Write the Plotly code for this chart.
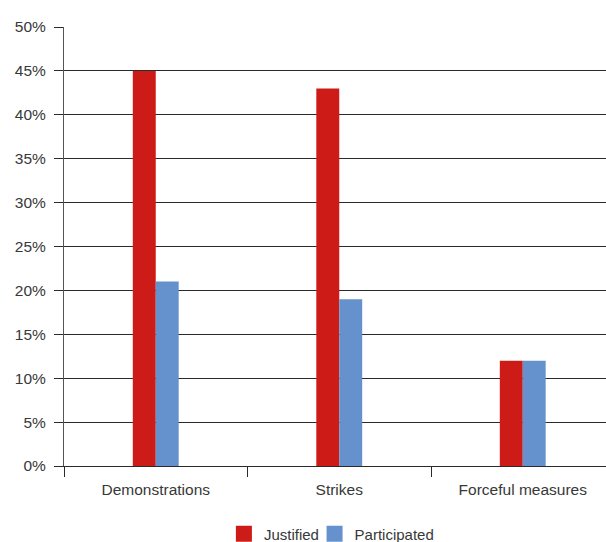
import plotly.graph_objects as go

categories = ["Demonstrations", "Strikes", "Forceful measures"]
justified = [45, 43, 12]
participated = [21, 19, 12]
y_ticks = [0, 5, 10, 15, 20, 25, 30, 35, 40, 45, 50]
y_tick_labels = [f"{v}%" for v in y_ticks]

RED = "#CD1C17"
BLUE = "#6592CD"
LINE = "#2a2a2a"
TEXT = "#383838"
FONT = "Liberation Sans"
FS = 15.5

fig = go.Figure()
fig.add_trace(go.Bar(name="Justified", x=categories, y=justified, showlegend=False,
                     marker=dict(color=RED, line=dict(width=0))))
fig.add_trace(go.Bar(name="Participated", x=categories, y=participated, showlegend=False,
                     marker=dict(color=BLUE, line=dict(width=0))))

# legend keys as larger square swatches, one legend box per key
for name, col, leg in [("Justified", RED, "legend"), ("Participated", BLUE, "legend2")]:
    fig.add_trace(go.Scatter(name=name, x=[None], y=[None], mode="markers", legend=leg,
                             marker=dict(symbol="square", size=16, color=col)))

legend_common = dict(orientation="h", xanchor="left",
                     yref="container", y=8 / 542, yanchor="middle",
                     bgcolor="rgba(0,0,0,0)",
                     font=dict(family=FONT, size=15, color=TEXT), itemwidth=30)

fig.update_layout(
    width=606, height=542,
    margin=dict(l=64, r=0, t=27, b=76),
    paper_bgcolor="white", plot_bgcolor="white",
    barmode="group", bargap=0.75, bargroupgap=0,
    font=dict(family=FONT, size=FS, color=TEXT),
    showlegend=True,
    legend=dict(x=0.295, **legend_common),
    legend2=dict(x=0.4623, **legend_common),
)
fig.update_xaxes(
    type="category", range=[-0.5, 2.4537],
    tickson="boundaries", ticks="outside", ticklen=10, tickcolor=LINE, tickwidth=1,
    ticklabelstandoff=9,
    showgrid=False, showline=True, linecolor=LINE, linewidth=1, zeroline=False,
    tickfont=dict(family=FONT, size=FS, color=TEXT),
)
fig.update_yaxes(
    range=[0, 50], tickvals=y_ticks, ticktext=y_tick_labels,
    ticks="outside", ticklen=9, tickcolor=LINE, tickwidth=1,
    ticklabelstandoff=5,
    showgrid=True, gridcolor=LINE, gridwidth=1,
    showline=True, linecolor="#555555", linewidth=1,
    zeroline=False,
    tickfont=dict(family=FONT, size=FS, color=TEXT),
)

fig.write_html("out.html")
